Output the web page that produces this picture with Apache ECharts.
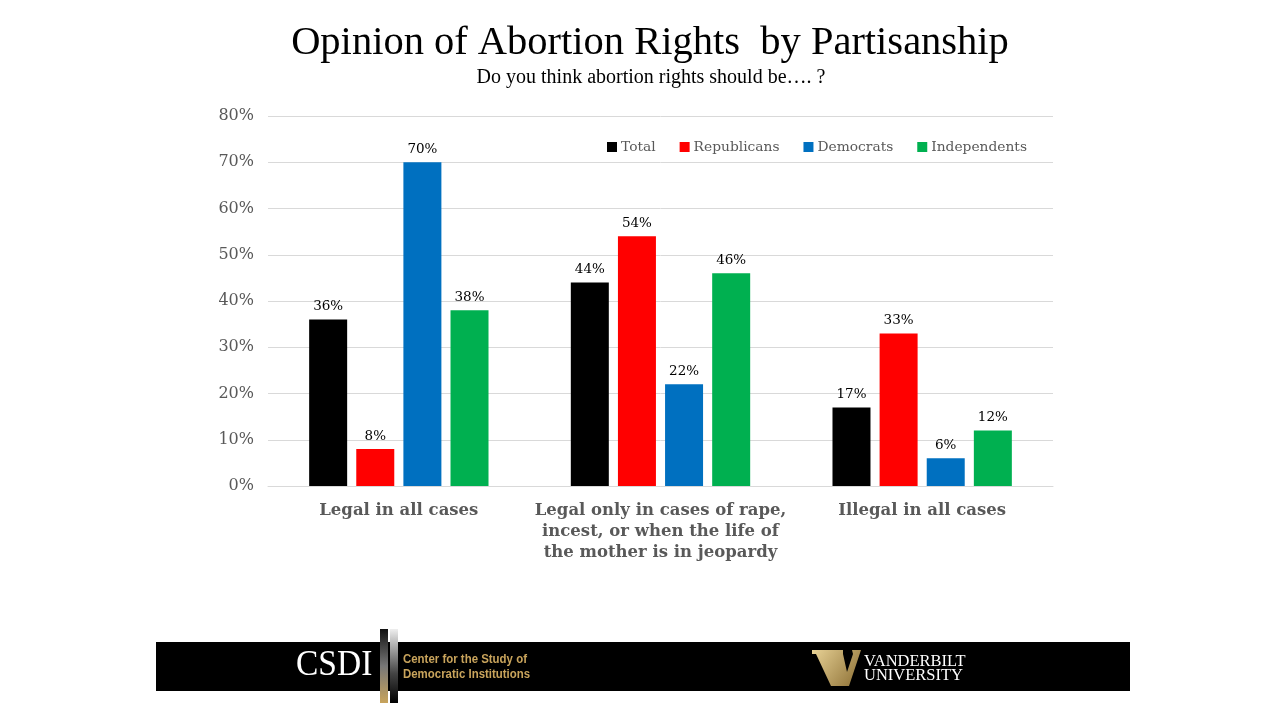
<!DOCTYPE html>
<html><head><meta charset="utf-8">
<script src="https://cdn.jsdelivr.net/npm/echarts@6/dist/echarts.min.js"></script>
<style>html,body{margin:0;padding:0;background:#fff}#c{width:1280px;height:720px}</style>
</head><body><div id="c"></div>
<script>
const categories = ["Legal in all cases", "Legal only in cases of rape,\nincest, or when the life of\nthe mother is in jeopardy", "Illegal in all cases"];
const seriesNames = ["Total", "Republicans", "Democrats", "Independents"];
const seriesColors = ["#000000", "#FF0000", "#0070C0", "#00B050"];
const totalVals = [36, 44, 17];
const repVals = [8, 54, 33];
const demVals = [70, 22, 6];
const indVals = [38, 46, 12];
const yTicks = [0, 10, 20, 30, 40, 50, 60, 70, 80];

const allVals = [totalVals, repVals, demVals, indVals];
const serif = "'Liberation Serif', 'Times New Roman', serif";
const geo = "'DejaVu Serif', Georgia, serif";
const chart = echarts.init(document.getElementById('c'));
chart.setOption({
  animation: false,
  title: [
    {text: "Opinion of Abortion Rights  by Partisanship", left: 645, top: 18, textAlign: 'center',
     textStyle: {fontFamily: serif, fontSize: 40.5, fontWeight: 'normal', color: '#000'}},
    {text: "Do you think abortion rights should be…. ?", left: 646, top: 63, textAlign: 'center',
     textStyle: {fontFamily: serif, fontSize: 20, fontWeight: 'normal', color: '#000'}}
  ],
  legend: {
    data: seriesNames, left: 602, top: 135, icon: 'rect', itemWidth: 10, itemHeight: 10, itemGap: 24,
    textStyle: {fontFamily: geo, fontSize: 13.8, color: '#595959', padding: [0,0,0,-1]}
  },
  grid: {left: 268, right: 227, top: 116, bottom: 234, containLabel: false},
  xAxis: {
    type: 'category', data: categories,
    axisLine: {lineStyle: {color: '#D9D9D9'}}, axisTick: {show: false},
    axisLabel: {fontFamily: geo, fontSize: 16.5, fontWeight: 'bold', color: '#595959', lineHeight: 21, margin: 14, interval: 0}
  },
  yAxis: {
    type: 'value', min: 0, max: 80, interval: 10,
    axisLine: {show: false}, axisTick: {show: false},
    splitLine: {lineStyle: {color: '#D9D9D9'}},
    axisLabel: {formatter: v => yTicks.includes(v) ? v + '%' : '', fontFamily: geo, fontSize: 16, color: '#595959', margin: 14}
  },
  series: seriesNames.map((n, i) => ({
    name: n, type: 'bar', data: allVals[i], barWidth: 38, barGap: '24%',
    itemStyle: {color: seriesColors[i]},
    label: {show: true, position: 'top', formatter: '{c}%', fontFamily: geo, fontSize: 13.5, color: '#000', distance: 6}
  })),
  graphic: [
    {type: 'rect', shape: {x: 156, y: 642, width: 974, height: 49}, style: {fill: '#000'}},
    {type: 'text', x: 296, y: 648, scaleX: 0.93, style: {text: 'CSDI', x: 0, y: 0, font: "36px 'Liberation Serif', serif", fill: '#fff'}},
    {type: 'rect', shape: {x: 380, y: 629, width: 8, height: 74},
     style: {fill: new echarts.graphic.LinearGradient(0, 0, 0, 1, [{offset: 0, color: '#111'}, {offset: 0.5, color: '#777'}, {offset: 1, color: '#c8a45c'}])}},
    {type: 'rect', shape: {x: 390, y: 629, width: 8, height: 74},
     style: {fill: new echarts.graphic.LinearGradient(0, 0, 0, 1, [{offset: 0, color: '#eee'}, {offset: 0.6, color: '#444'}, {offset: 1, color: '#000'}])}},
    {type: 'text', x: 403, y: 652, scaleX: 0.88, style: {text: 'Center for the Study of\nDemocratic Institutions', x: 0, y: 0, font: "bold 13px 'Liberation Sans Narrow', 'Liberation Sans', sans-serif", fill: '#C9A45C', lineHeight: 15}},
    {type: 'polygon', shape: {points: [[812, 650], [843, 650], [843, 654], [847, 672], [853, 654], [852, 650], [861, 650], [849, 686], [831, 686], [816, 654], [812, 654]]},
     style: {fill: new echarts.graphic.LinearGradient(0, 0, 1, 1, [{offset: 0, color: '#E8D296'}, {offset: 1, color: '#8A6D32'}])}},
    {type: 'text', x: 864, y: 655, scaleX: 1.03, style: {text: 'VANDERBILT\nUNIVERSITY', x: 0, y: 0, font: "16px 'Liberation Serif', serif", fill: '#fff', lineHeight: 14}}
  ]
});
</script></body></html>
